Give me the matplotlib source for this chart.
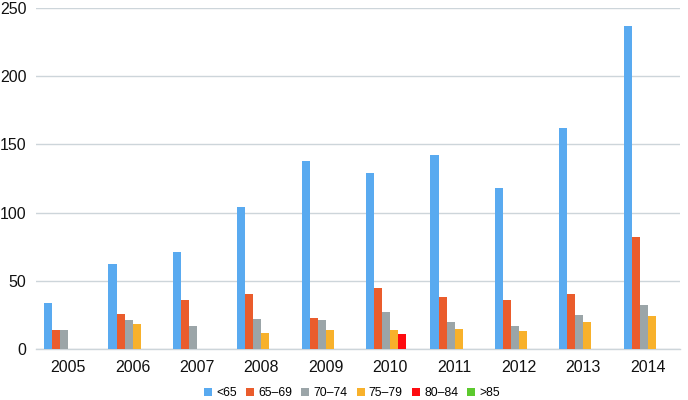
import matplotlib
matplotlib.use("Agg")
import matplotlib.pyplot as plt
import numpy as np

years = ["2005", "2006", "2007", "2008", "2009", "2010", "2011", "2012", "2013", "2014"]
series_names = ["<65", "65\u201369", "70\u201374", "75\u201379", "80\u201384", ">85"]
v_lt65 = [34, 62, 71, 104, 138, 129, 142, 118, 162, 237]
v_65_69 = [14, 26, 36, 40, 23, 45, 38, 36, 40, 82]
v_70_74 = [14, 21, 17, 22, 21, 27, 20, 17, 25, 32]
v_75_79 = [0, 18, 0, 12, 14, 14, 15, 13, 20, 24]
v_80_84 = [0, 0, 0, 0, 0, 11, 0, 0, 0, 0]
v_gt85 = [0, 0, 0, 0, 0, 0, 0, 0, 0, 0]
yticks = [0, 50, 100, 150, 200, 250]

colors = ["#59aaf0", "#ea5c2c", "#9ba5a8", "#f8b12b", "#fe0b10", "#5cc92e"]
all_series = [v_lt65, v_65_69, v_70_74, v_75_79, v_80_84, v_gt85]

plt.rcParams['font.family'] = ['Liberation Sans', 'DejaVu Sans']
fig = plt.figure(figsize=(6.88, 4.0), dpi=100)
ax = fig.add_axes([36/688, 1-349/400, (680-36)/688, (349-8)/400])

x = np.arange(len(years))
bw = 0.125
for i, (vals, c, name) in enumerate(zip(all_series, colors, series_names)):
    ax.bar(x - 0.375 + bw*(i+0.5), vals, width=bw, color=c, label=name, zorder=3)

ax.set_xlim(-0.5, len(years)-0.5)
ax.set_ylim(0, 250)
ax.set_yticks(yticks)
ax.set_yticklabels([str(t) for t in yticks], fontsize=11.5)
ax.set_xticks(x)
ax.set_xticklabels(years, fontsize=11.5)
ax.yaxis.grid(True, color="#cdd5da", linewidth=1.0, zorder=0)
ax.tick_params(axis='both', length=0, colors="#111111")
ax.tick_params(axis='y', pad=7)
ax.tick_params(axis='x', pad=8)
for s in ["top", "right", "left"]:
    ax.spines[s].set_visible(False)
ax.spines["bottom"].set_color("#cdd5da")
ax.spines["bottom"].set_linewidth(1.0)

leg = fig.legend(*ax.get_legend_handles_labels(), loc='center', bbox_to_anchor=(352/688, 1-393/400),
                 ncol=6, frameon=False, fontsize=8.8, handlelength=0.65, handleheight=0.65,
                 handletextpad=0.35, columnspacing=0.75, borderpad=0.0)

fig.savefig("out.png", dpi=100)
